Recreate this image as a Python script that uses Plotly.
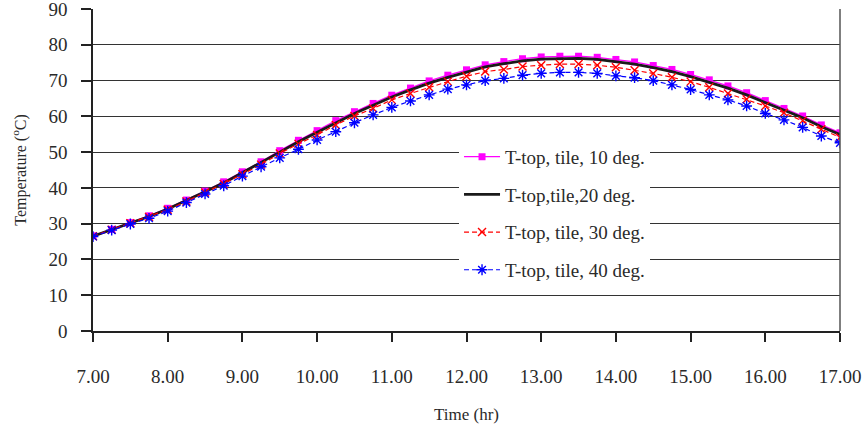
import plotly.graph_objects as go

# Hours of the day, sampled every quarter hour
time_hr = [7.00 + 0.25 * i for i in range(41)]

# Top surface temperature of the tile roof for four tilt angles (deg C)
t_top_10 = [26.6, 28.4, 30.3, 32.2, 34.3, 36.6, 39.1, 41.7, 44.5, 47.3,
            50.4, 53.3, 56.0, 58.8, 61.3, 63.6, 65.9, 67.9, 69.9, 71.5,
            73.0, 74.4, 75.3, 76.1, 76.6, 76.8, 76.8, 76.5, 75.9, 75.2,
            74.2, 73.1, 71.7, 70.2, 68.5, 66.6, 64.4, 62.2, 60.1, 57.6, 55.4]
t_top_20 = [26.5, 28.3, 30.2, 32.0, 34.1, 36.4, 38.9, 41.4, 44.2, 47.0,
            50.0, 52.9, 55.6, 58.3, 60.8, 63.1, 65.4, 67.4, 69.3, 70.9,
            72.4, 73.8, 74.7, 75.5, 76.0, 76.2, 76.2, 75.9, 75.3, 74.6,
            73.6, 72.5, 71.1, 69.6, 67.9, 66.0, 63.8, 61.7, 59.6, 57.1, 54.9]
t_top_30 = [26.5, 28.3, 30.1, 31.9, 33.9, 36.2, 38.7, 41.1, 43.8, 46.5,
            49.6, 52.3, 54.8, 57.6, 60.1, 62.2, 64.6, 66.4, 68.1, 69.7,
            71.2, 72.5, 73.1, 73.9, 74.3, 74.6, 74.6, 74.3, 73.7, 72.9,
            72.0, 70.9, 69.7, 68.1, 66.4, 64.8, 62.9, 61.0, 58.8, 56.4, 54.1]
t_top_40 = [26.4, 28.2, 29.9, 31.5, 33.5, 35.9, 38.3, 40.6, 43.3, 45.9,
            48.4, 50.8, 53.4, 55.7, 58.2, 60.4, 62.5, 64.3, 66.0, 67.6,
            68.8, 70.0, 70.6, 71.5, 72.0, 72.3, 72.3, 72.0, 71.3, 70.8,
            70.0, 68.8, 67.5, 66.0, 64.6, 62.9, 60.8, 59.0, 56.9, 54.5, 52.6]

series_names = ["T-top, tile, 10 deg.", "T-top,tile,20 deg.",
                "T-top, tile, 30 deg.", "T-top, tile, 40 deg."]

x_ticks = [7, 8, 9, 10, 11, 12, 13, 14, 15, 16, 17]
x_tick_labels = ["7.00", "8.00", "9.00", "10.00", "11.00", "12.00",
                 "13.00", "14.00", "15.00", "16.00", "17.00"]
y_ticks = [0, 10, 20, 30, 40, 50, 60, 70, 80, 90]

SERIF = "Liberation Serif, Times New Roman, serif"
TEXT = "#2a2a2a"

fig = go.Figure()

fig.add_trace(go.Scatter(
    x=time_hr, y=t_top_10, name=series_names[0], mode="lines+markers",
    legendgroup="a",
    line=dict(color="#ff00ff", width=1.3),
    marker=dict(symbol="square", size=7, color="#ff00ff"),
))
fig.add_trace(go.Scatter(
    x=time_hr, y=t_top_20, name=series_names[1], mode="lines",
    legendgroup="b",
    line=dict(color="#1a1a1a", width=2.8),
))
fig.add_trace(go.Scatter(
    x=time_hr, y=t_top_30, name=series_names[2], mode="lines+markers",
    legendgroup="c",
    line=dict(color="#ff0000", width=1.2, dash="5px,3px"),
    marker=dict(symbol="x-thin-open", size=8,
                line=dict(color="#ff0000", width=1.4)),
))
fig.add_trace(go.Scatter(
    x=time_hr, y=t_top_40, name=series_names[3], mode="lines+markers",
    legendgroup="d",
    line=dict(color="#0000ff", width=1.2, dash="5px,3px"),
    marker=dict(symbol="asterisk-open", size=9,
                line=dict(color="#0000ff", width=1.4)),
))

fig.update_layout(
    width=864, height=427,
    margin=dict(l=93, r=24, t=9, b=96),
    paper_bgcolor="white", plot_bgcolor="white",
    font=dict(family=SERIF, size=17, color=TEXT),
    showlegend=True,
    legend=dict(
        x=0.49, y=0.60, xanchor="left", yanchor="top",
        bgcolor="white", borderwidth=0,
        font=dict(family=SERIF, size=19, color=TEXT),
        traceorder="grouped", tracegroupgap=10,
        itemwidth=36,
    ),
    xaxis=dict(
        range=[7, 17], tickmode="array", tickvals=x_ticks,
        ticktext=x_tick_labels,
        showgrid=False, zeroline=False, automargin=False,
        ticklabeloverflow="allow",
        showline=True, linecolor="#222222", linewidth=1.5, mirror=False,
        ticks="outside", ticklen=9, tickcolor="#222222", tickwidth=1.5,
        ticklabelstandoff=18,
        tickfont=dict(family=SERIF, size=19, color=TEXT),
        title=dict(text="Time (hr)",
                   font=dict(family=SERIF, size=17, color=TEXT),
                   standoff=23),
    ),
    yaxis=dict(
        range=[0, 90], tickmode="array", tickvals=y_ticks,
        showgrid=True, gridcolor="#333333", gridwidth=1.3,
        zeroline=False, automargin=False,
        ticklabeloverflow="allow",
        showline=True, linecolor="#222222", linewidth=1.5,
        ticks="outside", ticklen=10, tickcolor="#222222", tickwidth=1.5,
        ticklabelstandoff=10,
        tickfont=dict(family=SERIF, size=19, color=TEXT),
        title=dict(text="Temperature (<sup>o</sup>C)",
                   font=dict(family=SERIF, size=16, color=TEXT),
                   standoff=18),
    ),
)

# White legend panel masking the gridlines behind the legend
fig.add_shape(type="rect", xref="paper", yref="paper", layer="between",
              x0=0.4605, x1=0.7697, y0=0.143, y1=0.578,
              fillcolor="white", line=dict(width=0))

# Right-hand frame line of the plotting area
fig.add_shape(type="line", xref="paper", yref="paper",
              x0=1, x1=1, y0=0, y1=1,
              line=dict(color="#555555", width=1.5))

fig.write_html("out.html")
